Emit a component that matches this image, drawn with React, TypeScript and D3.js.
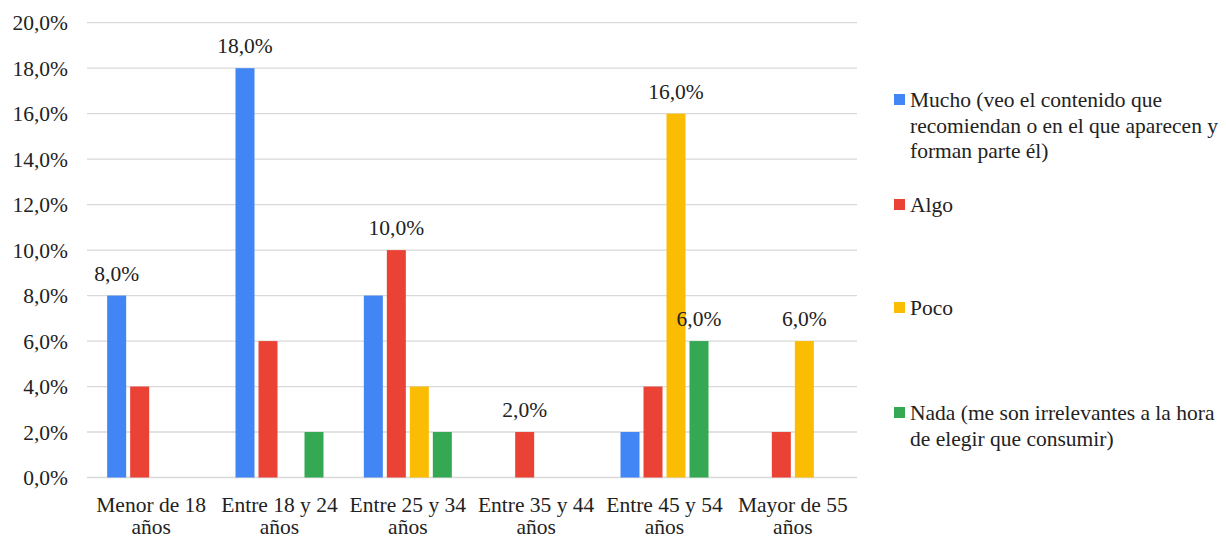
import React from "react";
import * as d3 from "d3";

const categories = [
  ["Menor de 18", "años"],
  ["Entre 18 y 24", "años"],
  ["Entre 25 y 34", "años"],
  ["Entre 35 y 44", "años"],
  ["Entre 45 y 54", "años"],
  ["Mayor de 55", "años"],
];
const seriesNames = ["Mucho", "Algo", "Poco", "Nada"];
const mucho = [8, 18, 8, 0, 2, 0];
const algo = [4, 6, 10, 2, 4, 2];
const poco = [0, 0, 4, 0, 16, 6];
const nada = [0, 2, 2, 0, 6, 0];
const colors = ["#4285F4", "#EA4335", "#FBBC04", "#34A853"];
const yTicks = [0, 2, 4, 6, 8, 10, 12, 14, 16, 18, 20];
// [category index, series index] pairs that carry a value label
const labelled: [number, number][] = [
  [0, 0],
  [1, 0],
  [2, 1],
  [3, 1],
  [4, 2],
  [4, 3],
  [5, 2],
];
const legendLines = [
  ["Mucho (veo el contenido que", "recomiendan o en el que aparecen y", "forman parte él)"],
  ["Algo"],
  ["Poco"],
  ["Nada (me son irrelevantes a la hora", "de elegir que consumir)"],
];

const W = 1226;
const H = 537;

export default function App() {
  const values = [mucho, algo, poco, nada];
  const catKeys = categories.map((c) => c.join(" "));
  const x = d3.scaleBand<string>().domain(catKeys).range([87, 857]).padding(0);
  const xs = d3
    .scaleBand<string>()
    .domain(seriesNames)
    .range([0, x.bandwidth()])
    .paddingInner(0.174)
    .paddingOuter(0.877);
  const y = d3.scaleLinear().domain([0, 20]).range([477.5, 22.7]);
  const fmt = (v: number) => v.toFixed(1).replace(".", ",") + "%";
  const legendY = [100, 205, 308, 413];
  const ts = { fontFamily: "Liberation Serif", fontSize: "21.5px" } as React.CSSProperties;

  return (
    <svg
      width={W}
      height={H}
      style={{ position: "absolute", left: 0, top: 0, background: "#fff" }}
    >
      <rect width={W} height={H} fill="#fff" />
      {yTicks.map((t) => (
        <g key={t}>
          <line x1={87} x2={857} y1={y(t)} y2={y(t)} stroke="#d9d9d9" strokeWidth={1.3} />
          <text x={68} y={y(t)} dy="0.35em" textAnchor="end" style={ts} fill="#222">
            {fmt(t)}
          </text>
        </g>
      ))}
      {catKeys.map((ck, ci) =>
        seriesNames.map((s, si) => {
          const v = values[si][ci];
          if (!v) return null;
          return (
            <rect
              key={ck + s}
              x={(x(ck) as number) + (xs(s) as number)}
              y={y(v)}
              width={xs.bandwidth()}
              height={y(0) - y(v)}
              fill={colors[si]}
            />
          );
        })
      )}
      {labelled.map(([ci, si]) => {
        const v = values[si][ci];
        const cx = (x(catKeys[ci]) as number) + (xs(seriesNames[si]) as number) + xs.bandwidth() / 2;
        return (
          <text key={ci + "-" + si} x={cx} y={y(v) - 15} textAnchor="middle" style={ts} fill="#222">
            {fmt(v)}
          </text>
        );
      })}
      {categories.map((c, ci) => {
        const cx = (x(catKeys[ci]) as number) + x.bandwidth() / 2;
        return (
          <text key={ci} x={cx} textAnchor="middle" style={ts} fill="#222">
            <tspan x={cx} y={512}>{c[0]}</tspan>
            <tspan x={cx} y={534}>{c[1]}</tspan>
          </text>
        );
      })}
      {legendLines.map((lines, i) => (
        <g key={i}>
          <rect x={894} y={legendY[i] - 6} width={11} height={11} fill={colors[i]} />
          <text style={ts} fill="#222">
            {lines.map((l, li) => (
              <tspan key={li} x={910} y={legendY[i] + 7 + li * 25.5}>
                {l}
              </tspan>
            ))}
          </text>
        </g>
      ))}
    </svg>
  );
}
